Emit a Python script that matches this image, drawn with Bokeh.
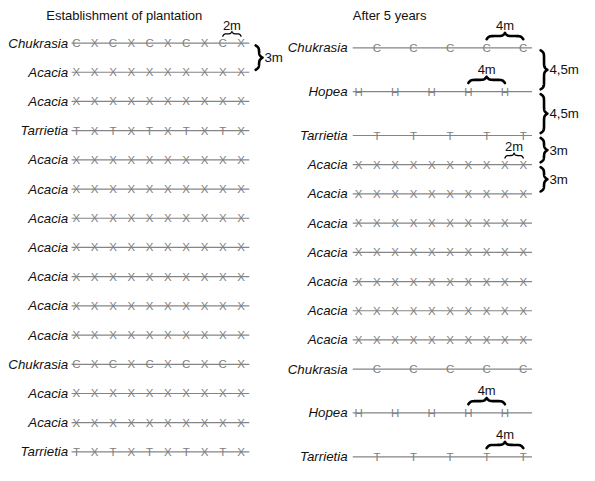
import numpy as np
from bokeh.plotting import figure
from bokeh.models import Range1d
from bokeh.embed import file_html
from bokeh.resources import INLINE
from bokeh.core.properties import value

# ---------------- data ----------------
left_title = "Establishment of plantation"
right_title = "After 5 years"

left_species = ["Chukrasia", "Acacia", "Acacia", "Tarrietia", "Acacia", "Acacia",
                "Acacia", "Acacia", "Acacia", "Acacia", "Acacia", "Chukrasia",
                "Acacia", "Acacia", "Tarrietia"]
left_row_m = [0, 3, 6, 9, 12, 15, 18, 21, 24, 27, 30, 33, 36, 39, 42]
left_marks = ["CXCXCXCXCX", "XXXXXXXXXX", "XXXXXXXXXX", "TXTXTXTXTX",
              "XXXXXXXXXX", "XXXXXXXXXX", "XXXXXXXXXX", "XXXXXXXXXX",
              "XXXXXXXXXX", "XXXXXXXXXX", "XXXXXXXXXX", "CXCXCXCXCX",
              "XXXXXXXXXX", "XXXXXXXXXX", "TXTXTXTXTX"]
left_spacing_m = 2

right_species = ["Chukrasia", "Hopea", "Tarrietia", "Acacia", "Acacia", "Acacia",
                 "Acacia", "Acacia", "Acacia", "Acacia", "Chukrasia", "Hopea",
                 "Tarrietia"]
right_row_m = [0, 4.5, 9, 12, 15, 18, 21, 24, 27, 30, 33, 37.5, 42]
right_positions = {
    "Chukrasia": [2, 6, 10, 14, 18],
    "Hopea": [0, 4, 8, 12, 16],
    "Tarrietia": [2, 6, 10, 14, 18],
    "Acacia": [0, 2, 4, 6, 8, 10, 12, 14, 16, 18],
}
right_letter = {"Chukrasia": "C", "Hopea": "H", "Tarrietia": "T", "Acacia": "X"}

# horizontal spacing notes: panel, row, from (m), to (m), label, bold
h_notes = [("L", 0, 16, 18, "2m", False),
           ("R", 0, 14, 18, "4m", True),
           ("R", 1, 12, 16, "4m", True),
           ("R", 3, 16, 18, "2m", False),
           ("R", 11, 12, 16, "4m", True),
           ("R", 12, 14, 18, "4m", True)]
# vertical spacing notes: panel, row a, row b, label
v_notes = [("L", 0, 1, "3m"),
           ("R", 0, 1, "4,5m"),
           ("R", 1, 2, "4,5m"),
           ("R", 2, 3, "3m"),
           ("R", 3, 4, "3m")]

# ---------------- layout ----------------
PXX, PXY = 9.4, 10.07          # drawing px per metre
W, H = 579, 465
xr = Range1d(-78 / PXX, (595 - 78) / PXX)
yr = Range1d((481 - 44) / PXY, -44 / PXY)

panel = {"L": dict(ox=0.0, oy=0.0, line0=-0.53, line1=18.9, lab=-0.9, brace_x=19.6),
         "R": dict(ox=30.85, oy=0.5, line0=-0.64, line1=18.95, lab=-1.2, brace_x=19.9)}

p = figure(width=W, height=H, x_range=xr, y_range=yr, output_backend="svg",
           toolbar_location=None, min_border=0)
p.axis.visible = False
p.grid.visible = False
p.outline_line_color = None
p.background_fill_color = "white"

LINE_C = "#858585"
MARK_C = "#808080"
FONT = value("Liberation Sans")


def rows(key, species, row_m, marks_for_row):
    pp = panel[key]
    ys = [pp["oy"] + r for r in row_m]
    p.segment(x0=[pp["ox"] + pp["line0"]] * len(ys), x1=[pp["ox"] + pp["line1"]] * len(ys),
              y0=ys, y1=ys, line_color=LINE_C, line_width=1.2)
    mx, my, mt = [], [], []
    for i, sp in enumerate(species):
        for xm, letter in marks_for_row(i, sp):
            mx.append(pp["ox"] + xm)
            my.append(ys[i])
            mt.append(letter)
    p.text(x=mx, y=my, text=mt, text_font=FONT, text_font_size="11.5px",
           text_color=MARK_C, text_align="center", text_baseline="middle")
    p.text(x=[pp["ox"] + pp["lab"]] * len(ys), y=ys, text=species, text_font=FONT,
           text_font_style="italic", text_font_size="13.3px", text_color="#111111",
           text_align="right", text_baseline="middle")


rows("L", left_species, left_row_m,
     lambda i, sp: [(k * left_spacing_m, c) for k, c in enumerate(left_marks[i])])
rows("R", right_species, right_row_m,
     lambda i, sp: [(xm, right_letter[sp]) for xm in right_positions[sp]])

# titles
p.text(x=[panel["L"]["ox"] - 3.3, panel["R"]["ox"] + panel["R"]["line0"]],
       y=[(16 - 44) / PXY] * 2, text=[left_title, right_title], text_font=FONT,
       text_font_size="13px", text_color="#111111", text_align="left",
       text_baseline="middle")


def brace_shape(L, depth, r):
    beta = 3.0 / r
    h = L / 2.0
    u = np.linspace(0, h, 60)
    v = 1 / (1 + np.exp(-beta * u)) + 1 / (1 + np.exp(-beta * (u - h))) - 0.5
    v = (v - v[0]) / (v[-1] - v[0])
    uu = np.concatenate([u, L - u[::-1][1:]])
    vv = np.concatenate([v, v[::-1][1:]]) * depth
    return uu, vv


# horizontal braces
hx, hy, hw, tx, ty, tt = [], [], [], [], [], []
for key, ri, a, b, lab, bold in h_notes:
    pp = panel[key]
    rows_m = left_row_m if key == "L" else right_row_m
    yrow = pp["oy"] + rows_m[ri]
    xa, xb = pp["ox"] + a, pp["ox"] + b
    Lpx = (xb - xa) * PXX
    if bold:
        end_off, depth, r, tpx, lw = 9, 6.5, 3.5, 23, 2.6
    else:
        end_off, depth, r, tpx, lw = 7, 5, 2.0, 18.5, 1.3
    uu, vv = brace_shape(Lpx, depth, r)
    hx.append(list(xa + uu / PXX))
    hy.append(list(yrow - (end_off + vv) / PXY))
    hw.append(lw)
    tx.append((xa + xb) / 2)
    ty.append(yrow - tpx / PXY)
    tt.append(lab)
p.multi_line(xs=hx, ys=hy, line_color="black", line_width=hw, line_join="round",
             line_cap="round")
p.text(x=tx, y=ty, text=tt, text_font=FONT, text_font_size="13px",
       text_color="#111111", text_align="center", text_baseline="middle")

# vertical braces
vx, vy, lx, ly, lt = [], [], [], [], []
for key, ra, rb, lab in v_notes:
    pp = panel[key]
    rows_m = left_row_m if key == "L" else right_row_m
    ya = pp["oy"] + rows_m[ra] + 0.25
    yb = pp["oy"] + rows_m[rb] - 0.25
    xb = pp["ox"] + pp["brace_x"]
    Lpx = (yb - ya) * PXY
    uu, vv = brace_shape(Lpx, 7, 3.5)
    vx.append(list(xb + vv / PXX))
    vy.append(list(ya + uu / PXY))
    lx.append(xb + 9.0 / PXX)
    ly.append((ya + yb) / 2)
    lt.append(lab)
p.multi_line(xs=vx, ys=vy, line_color="black", line_width=2.6, line_join="round",
             line_cap="round")
p.text(x=lx, y=ly, text=lt, text_font=FONT, text_font_size="13.3px",
       text_color="#111111", text_align="left", text_baseline="middle")

open("out.html", "w").write(file_html(p, INLINE))
